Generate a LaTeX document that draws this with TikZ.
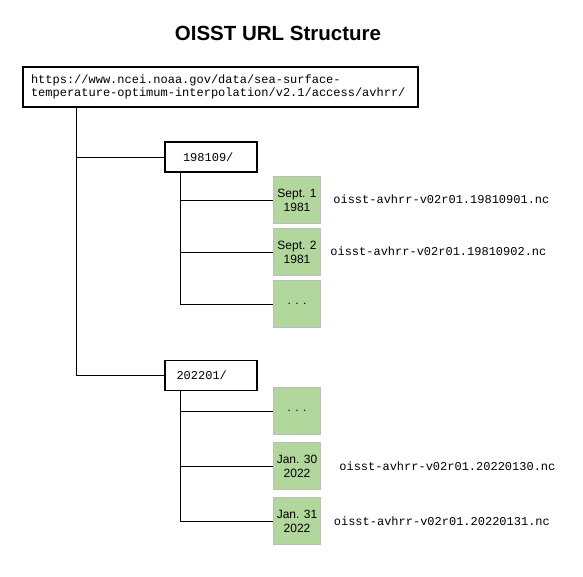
\documentclass[tikz,border=0pt]{standalone}
\usepackage{fontspec}
\setmainfont{Liberation Sans}
\setmonofont{Liberation Mono}
\usetikzlibrary{positioning}
\definecolor{leafgreen}{HTML}{B2D79C}
\definecolor{leafgray}{HTML}{BDBDBD}
\tikzset{
    urlbox/.style={draw, line width=1.2pt, font=\ttfamily\fontsize{12}{13}\selectfont, align=left, inner ysep=0pt, minimum height=40pt},
    dirbox/.style={draw, line width=1.2pt, font=\ttfamily\fontsize{12}{13}\selectfont, align=left, inner ysep=0pt, minimum height=30pt},
    daybox/.style={draw=leafgray, line width=0.8pt, fill=leafgreen, font=\fontsize{12}{14}\selectfont, align=center, minimum width=47.5pt, minimum height=46.5pt, inner sep=0pt},
    fname/.style={font=\ttfamily\fontsize{12}{13}\selectfont, inner sep=0pt},
    wire/.style={line width=1pt}
}
\begin{document}
\begin{tikzpicture}[x=1pt, y=-1pt]
    \useasboundingbox (0,0) rectangle (583,576);
    \node[font=\bfseries\fontsize{20.5}{24}\selectfont] (title) at (278,33) {OISST URL Structure};
    \node[urlbox, text width=379pt, inner xsep=8pt] (url) at (220.5,87) {https://www.ncei.noaa.gov/data/sea-surface-\\temperature-optimum-interpolation/v2.1/access/avhrr/};
    \node[dirbox, text width=56pt, inner xsep=18pt] (d198109) at (211,157) {198109/};
    \node[dirbox, text width=69pt, inner xsep=11.5pt] (d202201) at (211,375.5) {202201/};
    \node[daybox] (sep1) at (297,200) {Sept. 1\\1981};
    \node[daybox] (sep2) at (297,252) {Sept. 2\\1981};
    \node[daybox] (sepx) at (297,304) {. . .};
    \node[daybox] (janx) at (297,411) {. . .};
    \node[daybox] (jan30) at (297,466) {Jan. 30\\2022};
    \node[daybox] (jan31) at (297,521) {Jan. 31\\2022};
    \node[fname, anchor=west, right=12pt of sep1, yshift=1pt] (f0901) {oisst-avhrr-v02r01.19810901.nc};
    \node[fname, anchor=west, right=9pt of sep2, yshift=1pt] (f0902) {oisst-avhrr-v02r01.19810902.nc};
    \node[fname, anchor=west, right=18pt of jan30] (f0130) {oisst-avhrr-v02r01.20220130.nc};
    \node[fname, anchor=west, right=12.5pt of jan31] (f0131) {oisst-avhrr-v02r01.20220131.nc};
    % tree lines
    \coordinate (trunk) at (76,107);
    \coordinate (sub1) at (180.5,172);
    \coordinate (sub2) at (180.5,390.5);
    \draw[wire] (trunk) |- (d202201.west);
    \draw[wire] (d198109.west) -- (d198109.west -| trunk);
    \draw[wire] (sub1) |- (sepx.west);
    \draw[wire] (sep1.west) -- (sep1.west -| sub1);
    \draw[wire] (sep2.west) -- (sep2.west -| sub1);
    \draw[wire] (sub2) |- (jan31.west);
    \draw[wire] (janx.west) -- (janx.west -| sub2);
    \draw[wire] (jan30.west) -- (jan30.west -| sub2);
\end{tikzpicture}
\end{document}
